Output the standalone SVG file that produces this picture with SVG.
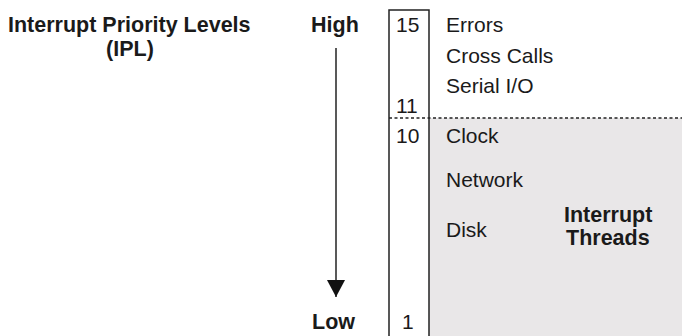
<svg xmlns="http://www.w3.org/2000/svg" width="682" height="336" viewBox="0 0 682 336">
<style>
.b{font-family:"Liberation Sans",Arial,sans-serif;font-weight:bold;font-size:21.5px;fill:#1a1a1a}
.r{font-family:"Liberation Sans",Arial,sans-serif;font-size:21px;fill:#1a1a1a}
.ln{stroke:#222;stroke-width:1.5;fill:none}
</style>
<defs>
<marker id="ah" markerWidth="18" markerHeight="18" refX="17" refY="9" orient="auto" markerUnits="userSpaceOnUse" viewBox="0 0 18 18">
<path d="M0,0 L17,9 L0,18 Z" fill="#111"/>
</marker>
</defs>
<rect width="682" height="336" fill="#fff"/>
<g id="threads-region">
<rect x="429" y="118" width="253" height="218" fill="#e9e7e8"/>
</g>
<g id="labels">
<text class="b" x="8" y="32">Interrupt Priority Levels</text>
<text class="b" x="130" y="56" text-anchor="middle">(IPL)</text>
<text class="b" x="311" y="32">High</text>
<text class="b" x="312" y="329">Low</text>
</g>
<g id="connectors">
<line class="ln" x1="336" y1="48" x2="336" y2="297" marker-end="url(#ah)"/>
</g>
<g id="ipl-column">
<path class="ln" d="M389,336 V10 H429 V336"/>
<line x1="389" y1="118" x2="682" y2="118" stroke="#222" stroke-width="1.3" stroke-dasharray="3,2.5"/>
<text class="r" x="396" y="32">15</text>
<text class="r" x="396" y="113">11</text>
<text class="r" x="396" y="143">10</text>
<text class="r" x="402" y="329">1</text>
</g>
<g id="high-ipl">
<text class="r" x="446" y="32">Errors</text>
<text class="r" x="446" y="63">Cross Calls</text>
<text class="r" x="446" y="93">Serial I/O</text>
</g>
<g id="low-ipl">
<text class="r" x="446" y="143">Clock</text>
<text class="r" x="446" y="187">Network</text>
<text class="r" x="446" y="237">Disk</text>
<text class="b" x="564" y="222">Interrupt</text>
<text class="b" x="566" y="245">Threads</text>
</g>
</svg>
